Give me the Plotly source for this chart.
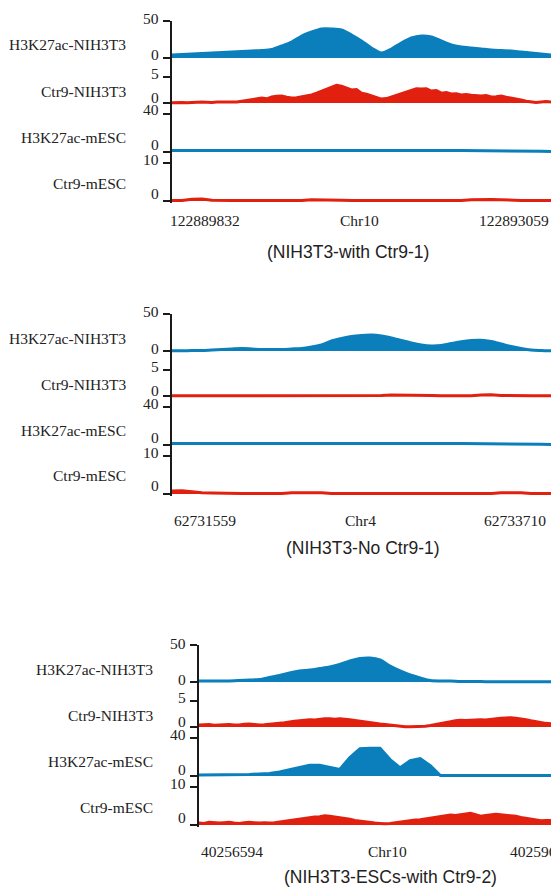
import plotly.graph_objects as go

W, H = 551, 888
BLUE = "#0a7fbb"
RED = "#e2200f"
AXIS = "#1a1a1a"
TEXT = "#222222"
SERIF = "Liberation Serif, Times New Roman, serif"
SANS = "Liberation Sans, Arial, sans-serif"

# ---------------- data ----------------
track_names = ["H3K27ac-NIH3T3", "Ctr9-NIH3T3", "H3K27ac-mESC", "Ctr9-mESC"]
track_colors = [BLUE, RED, BLUE, RED]
track_tops = [50, 5, 40, 10]

panel_titles = ["(NIH3T3-with Ctr9-1)", "(NIH3T3-No Ctr9-1)", "(NIH3T3-ESCs-with Ctr9-2)"]
panel_coord_labels = [
    ["122889832", "Chr10", "122893059"],
    ["62731559", "Chr4", "62733710"],
    ["40256594", "Chr10", "40259627"],
]

# Panel 1 : NIH3T3-with Ctr9-1
p1_h3k27ac_nih3t3 = [4.0, 4.7, 5.4, 6.1, 6.8, 7.4, 8.1, 8.8, 9.5, 10.1, 11.5, 16.2, 21.6, 29.7, 35.1,
                     39.2, 39.2, 37.8, 31.1, 23.0, 13.5, 6.8, 12.2, 20.3, 27.0, 29.7, 28.4, 23.0, 17.6,
                     14.9, 13.5, 12.2, 10.8, 10.1, 9.5, 8.1, 6.8, 5.4, 4.1]
p1_ctr9_nih3t3 = [0.05, 0.1, 0.1, 0.05, 0.05, 0.15, 0.2, 0.1, 0.1, 0.2,
                  0.2, 0.25, 0.3, 0.2, 0.35, 0.5, 0.6, 0.75, 0.95, 0.8,
                  1.15, 1.3, 1.35, 1.1, 0.95, 1.0, 1.15, 1.4, 1.55, 1.9,
                  2.3, 2.6, 3.05, 3.4, 3.25, 2.85, 2.5, 2.6, 1.9, 1.7,
                  1.35, 1.0, 0.75, 0.85, 1.15, 1.5, 1.75, 2.2, 2.5, 2.75,
                  2.7, 2.75, 2.3, 2.4, 1.9, 2.0, 1.75, 1.8, 1.55, 1.65,
                  1.5, 1.4, 1.35, 1.45, 1.15, 1.2, 1.35, 1.1, 0.95, 0.8,
                  0.6, 0.35, 0.2, 0.1, 0.2, 0.3, 0.2]
p1_h3k27ac_mesc = [1.6, 1.5, 1.6, 1.5, 1.5, 1.6, 1.5, 1.5, 1.6, 1.5, 1.6, 1.5, 1.5, 1.6, 1.6, 1.5, 1.5,
                   1.6, 1.5, 1.5, 1.6, 1.5, 1.5, 1.6, 1.5, 1.5, 1.6, 1.5, 1.5, 1.6, 1.5, 1.5, 1.6, 1.5,
                   1.5, 1.5, 1.4, 0.8, 0.4]
p1_ctr9_mesc = [0.1, 0.15, 0.45, 0.5, 0.2, 0.1, 0.1, 0.1, 0.1, 0.1, 0.15, 0.1, 0.1, 0.1, 0.3, 0.3,
                0.35, 0.2, 0.1, 0.1, 0.1, 0.1, 0.1, 0.1, 0.1, 0.1, 0.1, 0.1, 0.1, 0.15, 0.3, 0.4,
                0.4, 0.35, 0.2, 0.15, 0.1, 0.1, 0.1]

# Panel 2 : NIH3T3-No Ctr9-1
p2_h3k27ac_nih3t3 = [0.3, 0.3, 0.7, 0.7, 1.4, 2.0, 2.7, 3.4, 2.7, 2.0, 2.0, 2.0, 2.7, 3.4, 5.4, 8.1,
                     13.5, 16.9, 19.6, 21.0, 21.6, 20.3, 17.6, 14.2, 10.8, 8.1, 6.8, 7.4, 10.1, 12.6,
                     14.2, 14.5, 12.8, 9.5, 6.1, 3.4, 1.4, 0.7, 0.3]
p2_ctr9_nih3t3 = [0.05, 0.05, 0.05, 0.05, 0.05, 0.05, 0.05, 0.05, 0.05, 0.05, 0.05, 0.05, 0.05, 0.05,
                  0.05, 0.05, 0.05, 0.05, 0.05, 0.05, 0.05, 0.1, 0.2, 0.2, 0.15, 0.2, 0.1, 0.05, 0.05,
                  0.05, 0.05, 0.2, 0.25, 0.1, 0.05, 0.05, 0.05, 0.05, 0.05]
p2_h3k27ac_mesc = [1.6, 1.5, 1.6, 1.5, 1.5, 1.6, 1.5, 1.5, 1.6, 1.5, 1.6, 1.5, 1.5, 1.6, 1.6, 1.5, 1.5,
                   1.6, 1.5, 1.5, 1.6, 1.5, 1.5, 1.6, 1.5, 1.5, 1.6, 1.5, 1.5, 1.6, 1.5, 1.5, 1.6, 1.5,
                   1.5, 1.5, 1.4, 0.8, 0.4]
p2_ctr9_mesc = [0.8, 0.85, 0.6, 0.3, 0.25, 0.15, 0.1, 0.1, 0.1, 0.1, 0.1, 0.1, 0.3, 0.3, 0.25, 0.3,
                0.1, 0.1, 0.1, 0.1, 0.1, 0.1, 0.1, 0.1, 0.1, 0.1, 0.1, 0.1, 0.1, 0.1, 0.1, 0.1, 0.1,
                0.3, 0.35, 0.3, 0.1, 0.1, 0.1]

# Panel 3 : NIH3T3-ESCs-with Ctr9-2
p3_h3k27ac_nih3t3 = [1.4, 1.4, 1.4, 1.4, 2.0, 2.7, 3.4, 6.1, 8.8, 12.2, 14.9, 16.2, 18.2, 20.3, 23.6,
                     28.4, 31.7, 32.4, 29.7, 21.6, 14.9, 9.5, 5.4, 2.0, 1.4, 1.4, 0.7, 0.7, 0.7, 0.3,
                     0.3, 0.3, 0.3, 0.3, 0.3, 0.3]
p3_ctr9_nih3t3 = [0.4, 0.45, 0.5, 0.35, 0.4, 0.5, 0.5, 0.4, 0.4, 0.55,
                  0.6, 0.5, 0.4, 0.45, 0.5, 0.6, 0.7, 0.8, 1.0, 1.1,
                  1.2, 1.3, 1.4, 1.35, 1.5, 1.6, 1.6, 1.5, 1.6, 1.55,
                  1.4, 1.25, 1.1, 1.0, 0.9, 0.75, 0.6, 0.5, 0.4, 0.25,
                  0.1, 0.05, 0.05, 0.05, 0.05, 0.15, 0.3, 0.45, 0.6, 0.8,
                  1.0, 1.2, 1.3, 1.25, 1.3, 1.4, 1.4, 1.35, 1.5, 1.6,
                  1.7, 1.75, 1.8, 1.7, 1.6, 1.4, 1.2, 1.0, 0.8, 0.7, 0.6]
p3_h3k27ac_mesc = [1.1, 1.1, 1.2, 1.1, 1.6, 1.6, 2.2, 2.7, 4.3, 6.5, 8.6, 11.3, 11.3, 9.2, 7.0, 19.5,
                   28.6, 29.2, 29.2, 17.3, 8.6, 16.2, 18.4, 10.8, 0.5, 0.5, 0.6, 0.5, 0.5, 0.6, 0.5,
                   0.5, 0.6, 0.5, 0.5, 0.4]
p3_ctr9_mesc = [0.5, 0.4, 0.7, 0.6, 0.5, 0.6, 0.7, 0.5, 0.4, 0.6,
                0.7, 0.6, 0.5, 0.6, 0.5, 0.6, 0.8, 0.9, 1.1, 1.3,
                1.5, 1.8, 1.9, 2.1, 2.2, 2.4, 2.3, 2.1, 2.0, 1.8,
                1.5, 1.2, 1.0, 0.8, 0.6, 0.5, 0.4, 0.3, 0.4, 0.6,
                0.8, 1.0, 1.2, 1.3, 1.4, 1.6, 1.8, 1.9, 2.2, 2.4,
                2.6, 2.5, 2.7, 3.0, 3.1, 2.7, 2.3, 2.5, 2.6, 2.8,
                2.7, 2.6, 2.4, 2.3, 2.0, 1.8, 1.5, 1.3, 1.1, 1.2, 1.2]

panel_data = [
    [p1_h3k27ac_nih3t3, p1_ctr9_nih3t3, p1_h3k27ac_mesc, p1_ctr9_mesc],
    [p2_h3k27ac_nih3t3, p2_ctr9_nih3t3, p2_h3k27ac_mesc, p2_ctr9_mesc],
    [p3_h3k27ac_nih3t3, p3_ctr9_nih3t3, p3_h3k27ac_mesc, p3_ctr9_mesc],
]
track_line_shapes = ["spline", "linear", "linear", "linear"]

# ---------------- layout constants (page pixels) ----------------
panel_top = [21, 314, 645]
panel_axis_x = [172, 172, 199]
coord_label_y = [220, 520, 851]
coord_label_x = [[205, 359, 514], [205, 360, 515], [232, 387, 541]]
title_y = [252, 548, 877]
title_x = [348, 363, 390]
# (domain top, top tick, zero tick, domain bottom) relative to panel top
track_geom = [(0, 0, 37, 40), (40, 56, 82, 85), (85, 93, 131, 134), (134, 142, 180, 182)]
tick_label_off = [(-2, 34), (52, 76), (89, 124), (138, 172)]
name_off = [24, 70, 116, 162]


def py(p):
    return 1 - p / H


def px(p):
    return p / W


fig = go.Figure()
layout = {}
annotations = []
k = 0
for pi in range(3):
    T = panel_top[pi]
    X = panel_axis_x[pi]
    for ti in range(4):
        k += 1
        suffix = "" if k == 1 else str(k)
        vals = panel_data[pi][ti]
        n = len(vals)
        dt, tt, z, db = track_geom[ti]
        vmax = track_tops[ti]
        per_px = vmax / (z - tt)
        rng = [-(db - z) * per_px, (z - dt) * per_px]
        color = track_colors[ti]
        fig.add_trace(go.Scatter(
            x=list(range(n)), y=vals, xaxis="x" + suffix, yaxis="y" + suffix,
            mode="lines", fill="tozeroy", fillcolor=color,
            line=dict(color=color, width=3, shape=track_line_shapes[ti], smoothing=0.8),
            hoverinfo="skip", showlegend=False,
        ))
        layout["xaxis" + suffix] = dict(domain=[px(X), 1], range=[0, n - 1], visible=False,
                                        anchor="y" + suffix, fixedrange=True)
        layout["yaxis" + suffix] = dict(
            domain=[py(T + db), py(T + dt)], range=rng, anchor="x" + suffix,
            showline=True, linecolor=AXIS, linewidth=2,
            ticks="outside", ticklen=7, tickwidth=2, tickcolor=AXIS,
            tickvals=[0, vmax], showticklabels=False, showgrid=False, zeroline=False,
            fixedrange=True,
        )
        o_top, o_zero = tick_label_off[ti]
        for txt, off in ((str(vmax), o_top), ("0", o_zero)):
            annotations.append(dict(text=txt, x=px(X - 11), y=py(T + off), xref="paper",
                                    yref="paper", xanchor="right", yanchor="middle",
                                    showarrow=False, font=dict(family=SERIF, size=15.5, color=TEXT)))
        annotations.append(dict(text=track_names[ti], x=px(X - 44), y=py(T + name_off[ti]),
                                xref="paper", yref="paper", xanchor="right", yanchor="middle",
                                showarrow=False, font=dict(family=SERIF, size=15.5, color=TEXT)))
    for lbl, cx in zip(panel_coord_labels[pi], coord_label_x[pi]):
        annotations.append(dict(text=lbl, x=px(cx), y=py(coord_label_y[pi]), xref="paper",
                                yref="paper", xanchor="center", yanchor="middle", showarrow=False,
                                font=dict(family=SERIF, size=15.5, color=TEXT)))
    annotations.append(dict(text=panel_titles[pi], x=px(title_x[pi]), y=py(title_y[pi]),
                            xref="paper", yref="paper", xanchor="center", yanchor="middle",
                            showarrow=False, font=dict(family=SANS, size=17.5, color=TEXT)))

fig.update_layout(
    width=W, height=H, margin=dict(l=0, r=0, t=0, b=0),
    paper_bgcolor="white", plot_bgcolor="white",
    annotations=annotations, showlegend=False, **layout,
)

# remove the browser's default 8px page margin so the figure fills the window exactly
fig.write_html(
    "out.html",
    config={"displayModeBar": False, "staticPlot": True},
    post_script="document.body.style.margin='0';document.body.style.overflow='hidden';",
)
